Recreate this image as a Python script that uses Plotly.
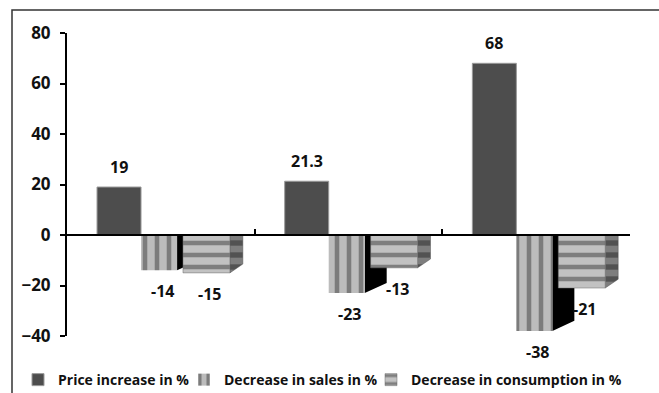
import plotly.graph_objects as go

# Three unlabeled groups along the horizontal axis
groups = [0, 1, 2]
price_increase = [19, 21.3, 68]
sales_decrease = [-14, -23, -38]
consumption_decrease = [-15, -13, -21]

series_names = ["Price increase in %", "Decrease in sales in %", "Decrease in consumption in %"]
y_tickvals = [-40, -20, 0, 20, 40, 60, 80]
y_range = [-40, 80]
x_range = [-0.5, 2.5]
group_edges = [0.5, 1.5, 2.5]

# Bar geometry (in group units) and pseudo-3D depth of the side faces
PRICE_OFF, PRICE_W = -0.340, 0.2345
SALES_OFF, SALES_W = -0.1055, 0.192
CONS_OFF, CONS_W = 0.118, 0.250
SALES_DEPTH_X, SALES_DEPTH_Y = 0.117, 4.0
CONS_DEPTH_X, CONS_DEPTH_Y = 0.069, 3.5

FONT = "Open Sans"
FIG_W, FIG_H = 659, 393
# Left pixel edge of each legend entry along the bottom row
LEGEND_LEFT_PX = [18, 184, 371]


def side_faces(values, left_off, width, depth_x, depth_y):
    """Parallelogram side faces hanging to the right of each bar."""
    xs, ys = [], []
    for g, v in zip(groups, values):
        x0 = g + left_off + width
        x1 = x0 + depth_x
        xs += [x0, x1, x1, x0, x0, None]
        ys += [0, 0, v + depth_y, v, 0, None]
    return xs, ys


fig = go.Figure()

# Side faces sit on the base axes so the bars (overlay axes) cover them
sx, sy = side_faces(sales_decrease, SALES_OFF, SALES_W, SALES_DEPTH_X, SALES_DEPTH_Y)
fig.add_trace(go.Scatter(
    x=sx, y=sy, mode="lines", fill="toself", fillcolor="#000000",
    line=dict(width=0, color="#000000"), showlegend=False, hoverinfo="skip",
    xaxis="x", yaxis="y",
))
cx, cy = side_faces(consumption_decrease, CONS_OFF, CONS_W, CONS_DEPTH_X, CONS_DEPTH_Y)
fig.add_trace(go.Scatter(
    x=cx, y=cy, mode="lines", fill="toself",
    fillpattern=dict(shape="-", fgcolor="#262626", bgcolor="#7e7e7e", size=12, solidity=0.45),
    line=dict(width=0.5, color="#555555"), showlegend=False, hoverinfo="skip",
    xaxis="x", yaxis="y",
))

# Front faces of the bars, each series with its own legend entry
fig.add_trace(go.Bar(
    name=series_names[0], x=groups, y=price_increase,
    offset=PRICE_OFF, width=PRICE_W,
    marker=dict(color="#4d4d4d", line=dict(color="#9a9a9a", width=1)),
    xaxis="x2", yaxis="y2", legend="legend",
))
fig.add_trace(go.Bar(
    name=series_names[1], x=groups, y=sales_decrease,
    offset=SALES_OFF, width=SALES_W,
    marker=dict(color="#bdbdbd", line=dict(width=0),
                pattern=dict(shape="|", fgcolor="#3c3c3c", bgcolor="#bcbcbc", size=12, solidity=0.38)),
    xaxis="x2", yaxis="y2", legend="legend2",
))
fig.add_trace(go.Bar(
    name=series_names[2], x=groups, y=consumption_decrease,
    offset=CONS_OFF, width=CONS_W,
    marker=dict(color="#b8b8b8", line=dict(color="#6a6a6a", width=0.5),
                pattern=dict(shape="-", fgcolor="#3c3c3c", bgcolor="#c2c2c2", size=12, solidity=0.38)),
    xaxis="x2", yaxis="y2", legend="legend3",
))

# Value labels
annotations = []
for values, off, w in [(price_increase, PRICE_OFF, PRICE_W),
                       (sales_decrease, SALES_OFF, SALES_W),
                       (consumption_decrease, CONS_OFF, CONS_W)]:
    for g, v in zip(groups, values):
        annotations.append(dict(
            x=g + off + w / 2, y=v, xref="x", yref="y",
            text=f"{v:g}", showarrow=False,
            yanchor="middle", yshift=20 if v > 0 else -21,
            xshift=0 if v > 0 else 3,
            font=dict(family=FONT, size=16, color="#111111", weight="bold"),
        ))

zero_frac = (0 - y_range[0]) / (y_range[1] - y_range[0])


def legend_box(left_px):
    return dict(
        orientation="h", xref="container", yref="container",
        x=left_px / FIG_W, y=0.033, xanchor="left", yanchor="middle",
        font=dict(family=FONT, size=14, color="#111111", weight="bold"),
        itemwidth=30, bgcolor="rgba(0,0,0,0)",
    )


fig.update_layout(
    width=FIG_W, height=FIG_H,
    margin=dict(l=67, r=29, t=33, b=57),
    paper_bgcolor="white", plot_bgcolor="white",
    barmode="overlay",
    xaxis=dict(
        range=x_range, anchor="free", position=zero_frac,
        showline=True, linecolor="black", linewidth=2,
        tickvals=group_edges, ticks="inside", ticklen=5, tickwidth=1.5, tickcolor="black",
        showticklabels=False, showgrid=False, zeroline=False,
    ),
    yaxis=dict(
        range=y_range, tickvals=y_tickvals,
        showline=True, linecolor="black", linewidth=2,
        ticks="outside", ticklen=5, tickwidth=1.5, tickcolor="black",
        ticklabelstandoff=6,
        tickfont=dict(family=FONT, size=17, color="#111111", weight="bold"),
        showgrid=False, zeroline=False,
    ),
    xaxis2=dict(range=x_range, overlaying="x", anchor="y2", visible=False),
    yaxis2=dict(range=y_range, overlaying="y", anchor="x2", visible=False),
    annotations=annotations,
    legend=legend_box(LEGEND_LEFT_PX[0]),
    legend2=legend_box(LEGEND_LEFT_PX[1]),
    legend3=legend_box(LEGEND_LEFT_PX[2]),
    shapes=[dict(
        type="rect", xref="paper", yref="paper",
        x0=(12 - 67) / 563, x1=1.1, y0=-0.3, y1=(336 - 10) / 303,
        line=dict(color="#333333", width=1.5), fillcolor="rgba(0,0,0,0)", layer="below",
    )],
)

fig.write_html("out.html")
